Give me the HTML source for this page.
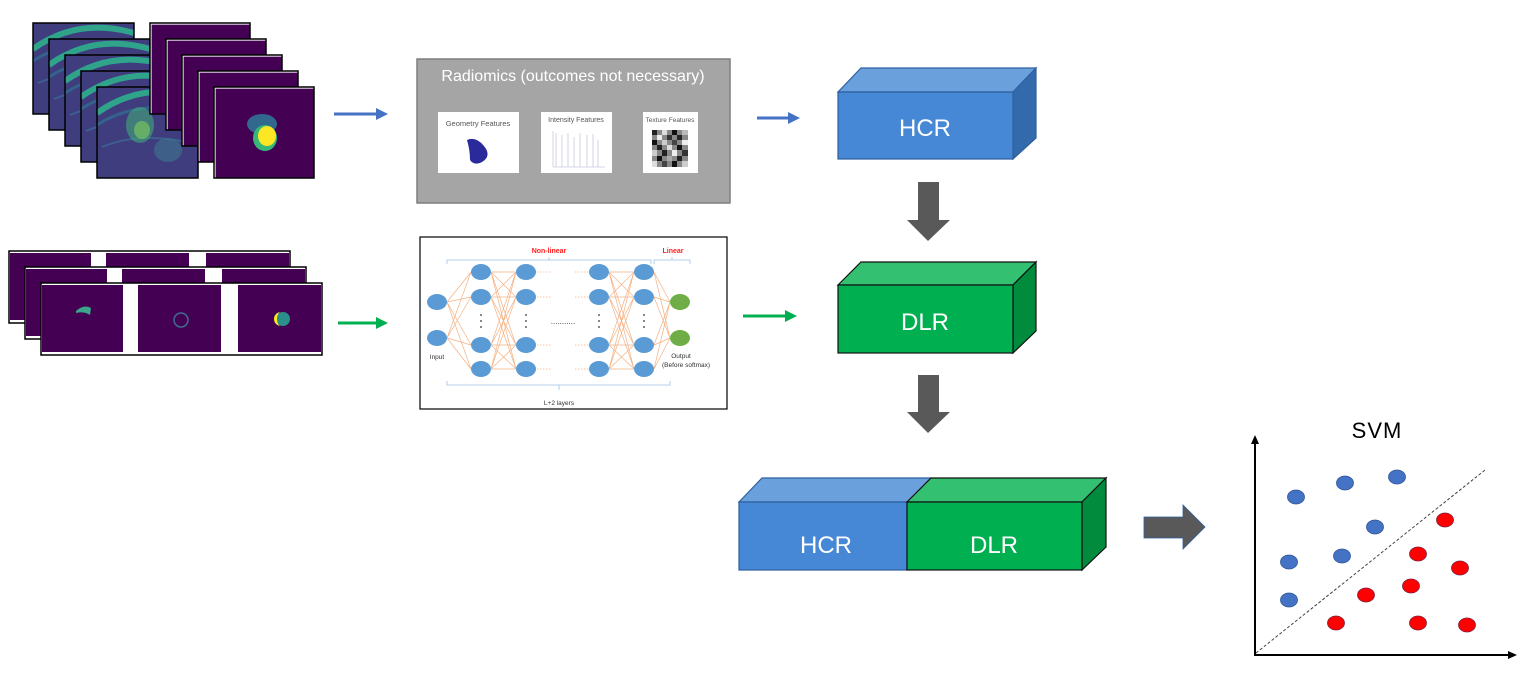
<!DOCTYPE html>
<html><head><meta charset="utf-8"><style>
html,body{margin:0;padding:0;background:#fff;}
svg{display:block;font-family:"Liberation Sans",sans-serif;}
</style></head><body>
<svg width="1540" height="685" viewBox="0 0 1540 685" xmlns="http://www.w3.org/2000/svg">
<defs>
<symbol id="mri" viewBox="0 0 101 91" width="101" height="91">
<rect x="0" y="0" width="101" height="91" fill="#3f3d7e"/>
<path d="M0,26 Q45,-6 101,10" stroke="#2fa48a" stroke-width="6" fill="none"/>
<path d="M0,38 Q40,12 101,24" stroke="#33638d" stroke-width="3" fill="none"/>
<path d="M5,60 Q40,45 90,55" stroke="#3d5f8d" stroke-width="2" fill="none"/>
</symbol>
<symbol id="msk" viewBox="0 0 100 91" width="100" height="91">
<rect x="0" y="0" width="100" height="91" fill="#440154"/>
<path d="M1,1 H100 M1,1 V91" stroke="#fff" stroke-width="1.2"/>
</symbol>
<g id="strip">
<rect x="0" y="0" width="281" height="72" fill="#fff" stroke="#000" stroke-width="1.5"/>
<rect x="1" y="2" width="81" height="67" fill="#440154"/>
<rect x="97" y="2" width="83" height="67" fill="#440154"/>
<rect x="197" y="2" width="83" height="67" fill="#440154"/>
</g>
</defs>

<g>
<use href="#mri" x="33" y="23"/><rect x="33" y="23" width="101" height="91" fill="none" stroke="#000" stroke-width="1.5"/>
<use href="#mri" x="49" y="39"/><rect x="49" y="39" width="101" height="91" fill="none" stroke="#000" stroke-width="1.5"/>
<use href="#mri" x="65" y="55"/><rect x="65" y="55" width="101" height="91" fill="none" stroke="#000" stroke-width="1.5"/>
<use href="#mri" x="81" y="71"/><rect x="81" y="71" width="101" height="91" fill="none" stroke="#000" stroke-width="1.5"/>
<use href="#mri" x="97" y="87"/>
<ellipse cx="140" cy="125" rx="14" ry="18" fill="#43a97a" opacity="0.6"/>
<ellipse cx="142" cy="130" rx="8" ry="9" fill="#7fcf5a" opacity="0.6"/>
<ellipse cx="168" cy="150" rx="14" ry="12" fill="#3f6d8d" opacity="0.7"/>
<rect x="97" y="87" width="101" height="91" fill="none" stroke="#000" stroke-width="1.5"/>
</g>
<g>
<use href="#msk" x="150" y="23"/><rect x="150" y="23" width="100" height="91" fill="none" stroke="#000" stroke-width="1.5"/>
<use href="#msk" x="166" y="39"/><rect x="166" y="39" width="100" height="91" fill="none" stroke="#000" stroke-width="1.5"/>
<use href="#msk" x="182" y="55"/><rect x="182" y="55" width="100" height="91" fill="none" stroke="#000" stroke-width="1.5"/>
<use href="#msk" x="198" y="71"/><rect x="198" y="71" width="100" height="91" fill="none" stroke="#000" stroke-width="1.5"/>
<use href="#msk" x="214" y="87"/>
<ellipse cx="262" cy="124" rx="15" ry="10" fill="#31688e"/>
<ellipse cx="265" cy="138" rx="12" ry="13" fill="#35b779"/>
<ellipse cx="267" cy="136" rx="9" ry="10" fill="#fde725"/>
<rect x="214" y="87" width="100" height="91" fill="none" stroke="#000" stroke-width="1.5"/>
</g>

<use href="#strip" x="9" y="251"/>
<use href="#strip" x="25" y="267"/>
<use href="#strip" x="41" y="283"/>
<path d="M76,311 Q84,304 91,308 L90,315 Q84,311 76,313Z" fill="#3aa58a"/>
<circle cx="181" cy="320" r="7" fill="none" stroke="#3b6e8f" stroke-width="1.5"/>
<circle cx="283" cy="319" r="7" fill="#2a8f8a"/>
<path d="M281,312 A7,7 0 0,0 281,326 A4,7 0 0,1 281,312Z" fill="#fde725"/>

<line x1="334" y1="114" x2="378" y2="114" stroke="#4472c4" stroke-width="3"/>
<polygon points="376,108 388,114 376,120" fill="#4472c4"/>
<line x1="338" y1="323" x2="378" y2="323" stroke="#00b050" stroke-width="3"/>
<polygon points="376,317 388,323 376,329" fill="#00b050"/>
<line x1="757" y1="118" x2="790" y2="118" stroke="#4472c4" stroke-width="3"/>
<polygon points="788,112 800,118 788,124" fill="#4472c4"/>
<line x1="743" y1="316" x2="787" y2="316" stroke="#00b050" stroke-width="3"/>
<polygon points="785,310 797,316 785,322" fill="#00b050"/>

<rect x="417" y="59" width="313" height="144" fill="#a5a5a5" stroke="#7f7f7f" stroke-width="1.5"/>
<text x="573" y="81" font-size="16" fill="#fff" text-anchor="middle">Radiomics (outcomes not necessary)</text>
<rect x="438" y="112" width="81" height="61" fill="#fff"/>
<text x="478" y="126" font-size="7.5" fill="#555" text-anchor="middle">Geometry Features</text>
<path d="M467,140 Q476,136 484,146 Q492,156 482,162 Q474,166 470,160 Q470,150 467,140Z" fill="#2a2a9a"/>
<rect x="541" y="112" width="71" height="61" fill="#fff"/>
<text x="576" y="122" font-size="7" fill="#555" text-anchor="middle">Intensity Features</text>
<g stroke="#c8c8e0" stroke-width="0.8">
<line x1="556" y1="133" x2="556" y2="167"/><line x1="562" y1="135" x2="562" y2="167"/><line x1="568" y1="133" x2="568" y2="167"/><line x1="574" y1="137" x2="574" y2="167"/><line x1="580" y1="133" x2="580" y2="167"/><line x1="587" y1="135" x2="587" y2="167"/><line x1="593" y1="134" x2="593" y2="167"/><line x1="598" y1="140" x2="598" y2="167"/>
<line x1="553" y1="167" x2="605" y2="167"/><line x1="553" y1="131" x2="553" y2="167"/>
</g>
<rect x="643" y="112" width="55" height="61" fill="#fff"/>
<text x="670" y="122" font-size="6.5" fill="#555" text-anchor="middle">Texture Features</text>
<g>
<rect x="652" y="130" width="36" height="37" fill="#888"/>
<rect x="652" y="130" width="5" height="5" fill="#222"/><rect x="662" y="130" width="5" height="5" fill="#ddd"/><rect x="672" y="130" width="5" height="5" fill="#111"/><rect x="682" y="130" width="6" height="5" fill="#bbb"/>
<rect x="657" y="135" width="5" height="5" fill="#eee"/><rect x="667" y="135" width="5" height="5" fill="#333"/><rect x="677" y="135" width="5" height="5" fill="#222"/>
<rect x="652" y="140" width="5" height="5" fill="#111"/><rect x="662" y="140" width="5" height="5" fill="#ccc"/><rect x="672" y="140" width="5" height="5" fill="#444"/><rect x="682" y="140" width="6" height="5" fill="#eee"/>
<rect x="657" y="145" width="5" height="5" fill="#222"/><rect x="667" y="145" width="5" height="5" fill="#ddd"/><rect x="677" y="145" width="5" height="5" fill="#111"/>
<rect x="652" y="150" width="5" height="6" fill="#ccc"/><rect x="662" y="150" width="5" height="6" fill="#222"/><rect x="672" y="150" width="5" height="6" fill="#eee"/><rect x="682" y="150" width="6" height="6" fill="#333"/>
<rect x="657" y="156" width="5" height="5" fill="#111"/><rect x="667" y="156" width="5" height="5" fill="#aaa"/><rect x="677" y="156" width="5" height="5" fill="#222"/>
<rect x="652" y="161" width="5" height="6" fill="#ddd"/><rect x="662" y="161" width="5" height="6" fill="#444"/><rect x="672" y="161" width="5" height="6" fill="#111"/><rect x="682" y="161" width="6" height="6" fill="#ccc"/>
</g>

<rect x="420" y="237" width="307" height="172" fill="#fff" stroke="#000" stroke-width="1.2"/>
<text x="549" y="253" font-size="7" fill="#ff2020" text-anchor="middle" font-weight="bold">Non-linear</text>
<text x="673" y="253" font-size="7" fill="#ff2020" text-anchor="middle" font-weight="bold">Linear</text>
<path d="M447,264 V260 H651 V264 M549,260 V257 M654,264 V260 H690 V264 M672,260 V257" stroke="#9dc3e6" fill="none" stroke-width="0.8"/>
<path d="M447,381 V385 H670 V381 M559,385 V390" stroke="#9dc3e6" fill="none" stroke-width="0.8"/>
<g stroke="#f4b183" stroke-width="0.7" fill="none">
<path d="M447,302L471,272M447,302L471,297M447,302L471,345M447,302L471,369M447,338L471,272M447,338L471,297M447,338L471,345M447,338L471,369"/>
<path d="M491,272L516,272M491,272L516,297M491,272L516,345M491,272L516,369M491,297L516,272M491,297L516,297M491,297L516,345M491,297L516,369M491,345L516,272M491,345L516,297M491,345L516,345M491,345L516,369M491,369L516,272M491,369L516,297M491,369L516,345M491,369L516,369"/>
<path d="M609,272L634,272M609,272L634,297M609,272L634,345M609,272L634,369M609,297L634,272M609,297L634,297M609,297L634,345M609,297L634,369M609,345L634,272M609,345L634,297M609,345L634,345M609,345L634,369M609,369L634,272M609,369L634,297M609,369L634,345M609,369L634,369"/>
<path d="M654,272L670,302M654,272L670,338M654,297L670,302M654,297L670,338M654,345L670,302M654,345L670,338M654,369L670,302M654,369L670,338"/>
<path d="M537,272H552M537,297H552M537,345H552M537,369H552M575,272H589M575,297H589M575,345H589M575,369H589" stroke-dasharray="1.5,1.5"/>
</g>
<text x="563" y="324" font-size="8" fill="#333" text-anchor="middle">...........</text>
<g fill="#333">
<circle cx="481" cy="315" r="0.9"/><circle cx="481" cy="321" r="0.9"/><circle cx="481" cy="327" r="0.9"/>
<circle cx="526" cy="315" r="0.9"/><circle cx="526" cy="321" r="0.9"/><circle cx="526" cy="327" r="0.9"/>
<circle cx="599" cy="315" r="0.9"/><circle cx="599" cy="321" r="0.9"/><circle cx="599" cy="327" r="0.9"/>
<circle cx="644" cy="315" r="0.9"/><circle cx="644" cy="321" r="0.9"/><circle cx="644" cy="327" r="0.9"/>
</g>
<g fill="#5b9bd5">
<ellipse cx="437" cy="302" rx="10" ry="8"/><ellipse cx="437" cy="338" rx="10" ry="8"/>
<ellipse cx="481" cy="272" rx="10" ry="8"/><ellipse cx="481" cy="297" rx="10" ry="8"/><ellipse cx="481" cy="345" rx="10" ry="8"/><ellipse cx="481" cy="369" rx="10" ry="8"/>
<ellipse cx="526" cy="272" rx="10" ry="8"/><ellipse cx="526" cy="297" rx="10" ry="8"/><ellipse cx="526" cy="345" rx="10" ry="8"/><ellipse cx="526" cy="369" rx="10" ry="8"/>
<ellipse cx="599" cy="272" rx="10" ry="8"/><ellipse cx="599" cy="297" rx="10" ry="8"/><ellipse cx="599" cy="345" rx="10" ry="8"/><ellipse cx="599" cy="369" rx="10" ry="8"/>
<ellipse cx="644" cy="272" rx="10" ry="8"/><ellipse cx="644" cy="297" rx="10" ry="8"/><ellipse cx="644" cy="345" rx="10" ry="8"/><ellipse cx="644" cy="369" rx="10" ry="8"/>
</g>
<ellipse cx="680" cy="302" rx="10" ry="8" fill="#70ad47"/><ellipse cx="680" cy="338" rx="10" ry="8" fill="#70ad47"/>
<text x="437" y="359" font-size="6.5" fill="#333" text-anchor="middle">Input</text>
<text x="681" y="358" font-size="6.5" fill="#333" text-anchor="middle">Output</text>
<text x="686" y="367" font-size="6.5" fill="#333" text-anchor="middle">(Before softmax)</text>
<text x="559" y="405" font-size="6.5" fill="#333" text-anchor="middle">L+2 layers</text>

<polygon points="838,92 861,68 1036,68 1013,92" fill="#6aa1dd" stroke="#2e5f9e" stroke-width="1.2"/>
<polygon points="1013,92 1036,68 1036,138 1013,159" fill="#336aab" stroke="#2e5f9e" stroke-width="1.2"/>
<rect x="838" y="92" width="175" height="67" fill="#4688d6" stroke="#2e5f9e" stroke-width="1.2"/>
<text x="925" y="136" font-size="24" fill="#fff" text-anchor="middle">HCR</text>

<polygon points="918,182 939,182 939,220 950,220 928,241 907,220 918,220" fill="#595959"/>
<polygon points="918,375 939,375 939,412 950,412 928,433 907,412 918,412" fill="#595959"/>

<polygon points="838,285 861,262 1036,262 1013,285" fill="#33c171" stroke="#111" stroke-width="1.2"/>
<polygon points="1013,285 1036,262 1036,331 1013,353" fill="#008c3c" stroke="#111" stroke-width="1.2"/>
<rect x="838" y="285" width="175" height="68" fill="#00b050" stroke="#111" stroke-width="1.2"/>
<text x="925" y="330" font-size="24" fill="#fff" text-anchor="middle">DLR</text>

<polygon points="739,502 762,478 931,478 907,502" fill="#6aa1dd" stroke="#2e5f9e" stroke-width="1.2"/>
<rect x="739" y="502" width="168" height="68" fill="#4688d6" stroke="#2e5f9e" stroke-width="1.2"/>
<polygon points="907,502 931,478 1106,478 1082,502" fill="#33c171" stroke="#111" stroke-width="1.2"/>
<polygon points="1082,502 1106,478 1106,547 1082,570" fill="#008c3c" stroke="#111" stroke-width="1.2"/>
<rect x="907" y="502" width="175" height="68" fill="#00b050" stroke="#111" stroke-width="1.2"/>
<text x="826" y="553" font-size="24" fill="#fff" text-anchor="middle">HCR</text>
<text x="994" y="553" font-size="24" fill="#fff" text-anchor="middle">DLR</text>

<polygon points="1144,517 1183,517 1183,505 1205,527 1183,549 1183,538 1144,538" fill="#595959" stroke="#2e5f9e" stroke-width="0.8"/>

<text x="1377" y="438" font-size="22" fill="#000" text-anchor="middle" letter-spacing="1">SVM</text>
<line x1="1255" y1="655" x2="1255" y2="442" stroke="#000" stroke-width="2"/>
<polygon points="1251,444 1255,435 1259,444" fill="#000"/>
<line x1="1254" y1="655" x2="1510" y2="655" stroke="#000" stroke-width="2"/>
<polygon points="1508,651 1517,655 1508,659" fill="#000"/>
<line x1="1256" y1="653" x2="1485" y2="470" stroke="#444" stroke-width="1" stroke-dasharray="3,2"/>
<g fill="#4472c4" stroke="#2f5597" stroke-width="0.8">
<ellipse cx="1296" cy="497" rx="8.5" ry="7"/><ellipse cx="1345" cy="483" rx="8.5" ry="7"/><ellipse cx="1397" cy="477" rx="8.5" ry="7"/>
<ellipse cx="1375" cy="527" rx="8.5" ry="7"/><ellipse cx="1289" cy="562" rx="8.5" ry="7"/><ellipse cx="1342" cy="556" rx="8.5" ry="7"/><ellipse cx="1289" cy="600" rx="8.5" ry="7"/>
</g>
<g fill="#ff0000" stroke="#7f1f3f" stroke-width="0.8">
<ellipse cx="1445" cy="520" rx="8.5" ry="7"/><ellipse cx="1418" cy="554" rx="8.5" ry="7"/><ellipse cx="1460" cy="568" rx="8.5" ry="7"/>
<ellipse cx="1411" cy="586" rx="8.5" ry="7"/><ellipse cx="1366" cy="595" rx="8.5" ry="7"/><ellipse cx="1336" cy="623" rx="8.5" ry="7"/>
<ellipse cx="1418" cy="623" rx="8.5" ry="7"/><ellipse cx="1467" cy="625" rx="8.5" ry="7"/>
</g>
</svg>
</body></html>
